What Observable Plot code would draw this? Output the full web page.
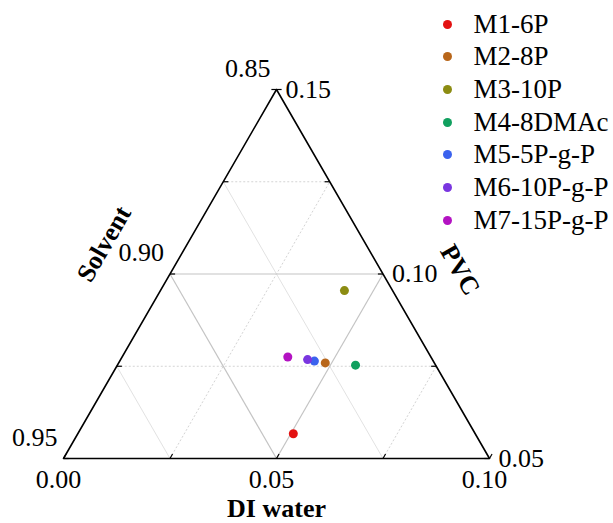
<!DOCTYPE html>
<html><head><meta charset="utf-8">
<script src="https://cdn.jsdelivr.net/npm/d3@7"></script>
<script src="https://cdn.jsdelivr.net/npm/@observablehq/plot@0.6"></script>
<style>
body{margin:0;background:#fff;}
#wrap{position:relative;width:613px;height:523px;font-family:"Liberation Serif","DejaVu Serif",serif;}
#legend{position:absolute;left:0;top:0;}
.row{position:absolute;display:flex;align-items:center;height:32px;font-size:27px;color:#000;white-space:nowrap;}
.sw{display:inline-block;width:9px;height:9px;border-radius:50%;margin-right:22px;}
</style></head><body>
<div id="wrap"><div id="chart"></div><div id="legend"></div></div>
<script>
// ---- data ----
const samples = ["M1-6P","M2-8P","M3-10P","M4-8DMAc","M5-5P-g-P","M6-10P-g-P","M7-15P-g-P"];
const diWater = [0.0506, 0.0485, 0.0432, 0.0559, 0.0457, 0.0439, 0.0389];
const pvc     = [0.0567, 0.0759, 0.0955, 0.0753, 0.0764, 0.0768, 0.0775];
const solvent = [0.8927, 0.8756, 0.8613, 0.8688, 0.8779, 0.8793, 0.8836];
const colors  = ["#e31212","#b8661a","#8c8c12","#11a05f","#3b62ee","#7a36e0","#b312c2"];

// axis tick labels
const waterTicks   = [0.00, 0.05, 0.10];
const solventTicks = [0.85, 0.90, 0.95];
const pvcTicks     = [0.05, 0.10, 0.15];
// grid lines
const waterGrid   = [0.025, 0.05, 0.075];
const solventGrid = [0.925, 0.90, 0.875];
const pvcGrid     = [0.075, 0.10, 0.125];
const minorTicks  = [0, 0.025, 0.05, 0.075, 0.10];

// ---- ternary projection (water w, PVC p) -> cartesian ----
const px = (w, p) => w + (p - 0.05) / 2;
const py = (w, p) => p - 0.05;
const isMajor = v => Math.abs(Math.round(v / 0.05) * 0.05 - v) < 1e-9;

const rows = samples.map((name, i) => ({name, w: diWater[i], s: solvent[i], p: pvc[i]}));

const corners = [ {w:0, p:0.05}, {w:0.10, p:0.05}, {w:0, p:0.15}, {w:0, p:0.05} ];

const grid = [];
waterGrid.forEach(w => grid.push({a:{w, p:0.05}, b:{w, p:0.15 - w}, kind: isMajor(w) ? "major" : "dot"}));
pvcGrid.forEach(p => grid.push({a:{w:0, p}, b:{w:0.15 - p, p}, kind: isMajor(p) ? "major" : "dot"}));
solventGrid.forEach(s => grid.push({a:{w:0.95 - s, p:0.05}, b:{w:0, p:1 - s}, kind: isMajor(s) ? "major" : "minor"}));

const t = 0.0012;
const ticks = [];
minorTicks.forEach(v => {
  ticks.push({a:{w:v, p:0.05}, b:{w:v, p:0.05 + t}});                 // bottom (water)
  ticks.push({a:{w:0, p:0.05 + v}, b:{w:t, p:0.05 + v}});              // left (solvent)
  ticks.push({a:{w:0.10 - v, p:0.05 + v}, b:{w:0.10 - v - t, p:0.05 + v}}); // right (PVC)
});

const lblSolvent = solventTicks.map(s => ({w:0, p:1 - s, text: s.toFixed(2)}));
const lblPvc = pvcTicks.map(p => ({w:0.15 - p, p, text: p.toFixed(2)}));
const lblWater = waterTicks.map(w => ({w, p:0.05, text: w.toFixed(2)}));

const fx = d => px(d.w, d.p), fy = d => py(d.w, d.p);
const link = (data, opts) => Plot.link(data, {x1: d => px(d.a.w, d.a.p), y1: d => py(d.a.w, d.a.p), x2: d => px(d.b.w, d.b.p), y2: d => py(d.b.w, d.b.p), ...opts});

const chart = Plot.plot({
  width: 613, height: 523,
  marginTop: 0, marginRight: 0, marginBottom: 0, marginLeft: 0,
  style: {fontFamily: '"Liberation Serif","DejaVu Serif",serif', fontSize: "26px", background: "#fff"},
  x: {domain: [0, 0.1], range: [63, 489], axis: null},
  y: {domain: [0, 0.1], range: [458, 89], axis: null},
  color: {domain: samples, range: colors},
  marks: [
    link(grid.filter(g => g.kind === "dot"), {stroke: "#d4d4d4", strokeWidth: 1, strokeDasharray: "2,2"}),
    link(grid.filter(g => g.kind === "minor"), {stroke: "#e2e2e2", strokeWidth: 1}),
    link(grid.filter(g => g.kind === "major"), {stroke: "#c4c4c4", strokeWidth: 1.2}),
    Plot.line(corners, {x: fx, y: fy, stroke: "#000", strokeWidth: 1.6}),
    link(ticks, {stroke: "#000", strokeWidth: 1.2}),
    Plot.dot(rows, {x: fx, y: fy, fill: "name", r: 4.5}),
    Plot.text(lblSolvent, {x: fx, y: fy, text: "text", textAnchor: "end", dx: -6, dy: -21, fontSize: 26, fill: "#000"}),
    Plot.text(lblPvc, {x: fx, y: fy, text: "text", textAnchor: "start", dx: 9, dy: 0, fontSize: 26, fill: "#000"}),
    Plot.text(lblWater, {x: fx, y: fy, text: "text", textAnchor: "middle", dx: -5, dy: 21, fontSize: 26, fill: "#000"}),
    Plot.text([{w:0.05, p:0.05, text:"DI water"}], {x: fx, y: fy, text: "text", dy: 50, fontSize: 26, fontWeight: "bold", fill: "#000"}),
    Plot.text([{w:0, p:0.10, text:"Solvent"}], {x: fx, y: fy, text: "text", dx: -66, dy: -30, rotate: -60, fontSize: 26, fontWeight: "bold", fill: "#000"}),
    Plot.text([{w:0.05, p:0.10, text:"PVC"}], {x: fx, y: fy, text: "text", dx: 77, dy: -4, rotate: 60, fontSize: 26, fontWeight: "bold", fill: "#000"})
  ]
});
document.getElementById("chart").appendChild(chart);

// legend
const legend = d3.select("#legend");
samples.forEach((name, i) => {
  const row = legend.append("div").attr("class", "row")
    .style("left", "442.5px").style("top", (24 + i * 32.7 - 16) + "px");
  row.append("span").attr("class", "sw").style("background", colors[i]);
  row.append("span").text(name);
});
</script>
</body></html>
